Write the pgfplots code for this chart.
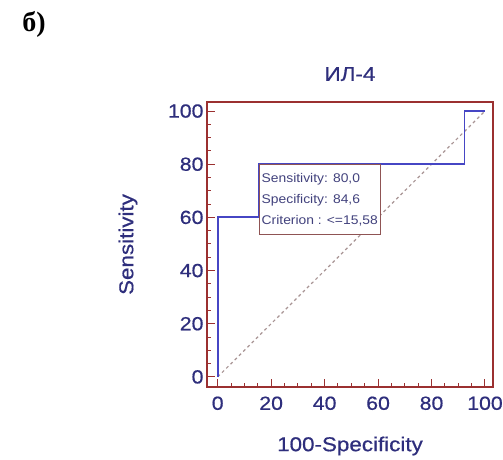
\documentclass[border=0pt]{standalone}
\usepackage{fontspec}
\setmainfont[FakeStretch=1.12, FakeBold=0.6]{Liberation Sans}
\newfontfamily\boxfont[FakeStretch=1.1]{Liberation Sans}
\newfontfamily\serifb{Liberation Serif}
\usepackage{pgfplots}
\pgfplotsset{compat=1.18}
\definecolor{frame}{HTML}{9B3030}
\definecolor{roc}{HTML}{4646C4}
\definecolor{txt}{HTML}{2E2E7C}
\definecolor{diag}{HTML}{A89494}

\begin{document}
\begin{tikzpicture}
\path[use as bounding box] (0,0) rectangle (503pt,460pt);
\node[anchor=center, font=\serifb\bfseries\fontsize{28}{30}\selectfont] at (34pt,436pt) {б)};
\begin{axis}[
    at={(207pt,73pt)}, anchor=south west,
    scale only axis,
    width=286pt, height=285pt,
    xmin=-4, xmax=103, ymin=-3.8, ymax=103.4,
    xtick={0,20,...,100}, ytick={0,20,...,100},
    minor x tick num=3, minor y tick num=3,
    xtick pos=lower, ytick pos=left,
    tick align=inside,
    major tick length=8pt, minor tick length=4pt,
    tick style={draw=frame, line width=1pt},
    axis line style={draw=frame, line width=2.6pt},
    /pgf/number format/assume math mode=true,
    tick label style={font=\fontsize{19}{21}\selectfont, text=txt},
    xticklabel style={yshift=-6pt},
    title={ИЛ-4},
    title style={at={(axis description cs:0.5,1.077)}, anchor=center, font=\fontsize{20}{22}\selectfont, text=txt},
    xlabel={100-Specificity},
    xlabel style={at={(axis description cs:0.5,-0.207)}, anchor=center, font=\fontsize{20}{22}\selectfont, text=txt},
    ylabel={Sensitivity},
    ylabel style={at={(axis description cs:-0.276,0.5)}, anchor=center, font=\fontsize{20}{22}\selectfont, text=txt},
]
\addplot[diag, line width=1.2pt, dash pattern=on 3pt off 3pt] coordinates {(0,0) (100,100)};
\addplot[roc, line width=1.8pt] coordinates {
    (0,0) (0,60) (15.38,60) (15.38,80) (92.31,80) (92.31,100) (100,100)
};
\node[anchor=north west, draw=frame!55!gray, line width=0.8pt, fill=white,
      align=left, inner xsep=2.5pt, inner ysep=8.5pt, text=txt!75!gray,
      font=\boxfont\fontsize{12.6}{21}\selectfont]
    at (axis cs:15.38,80) {Sensitivity: 80,0\\Specificity: 84,6\\Criterion : <=15,58};
\end{axis}
\end{tikzpicture}
\end{document}
